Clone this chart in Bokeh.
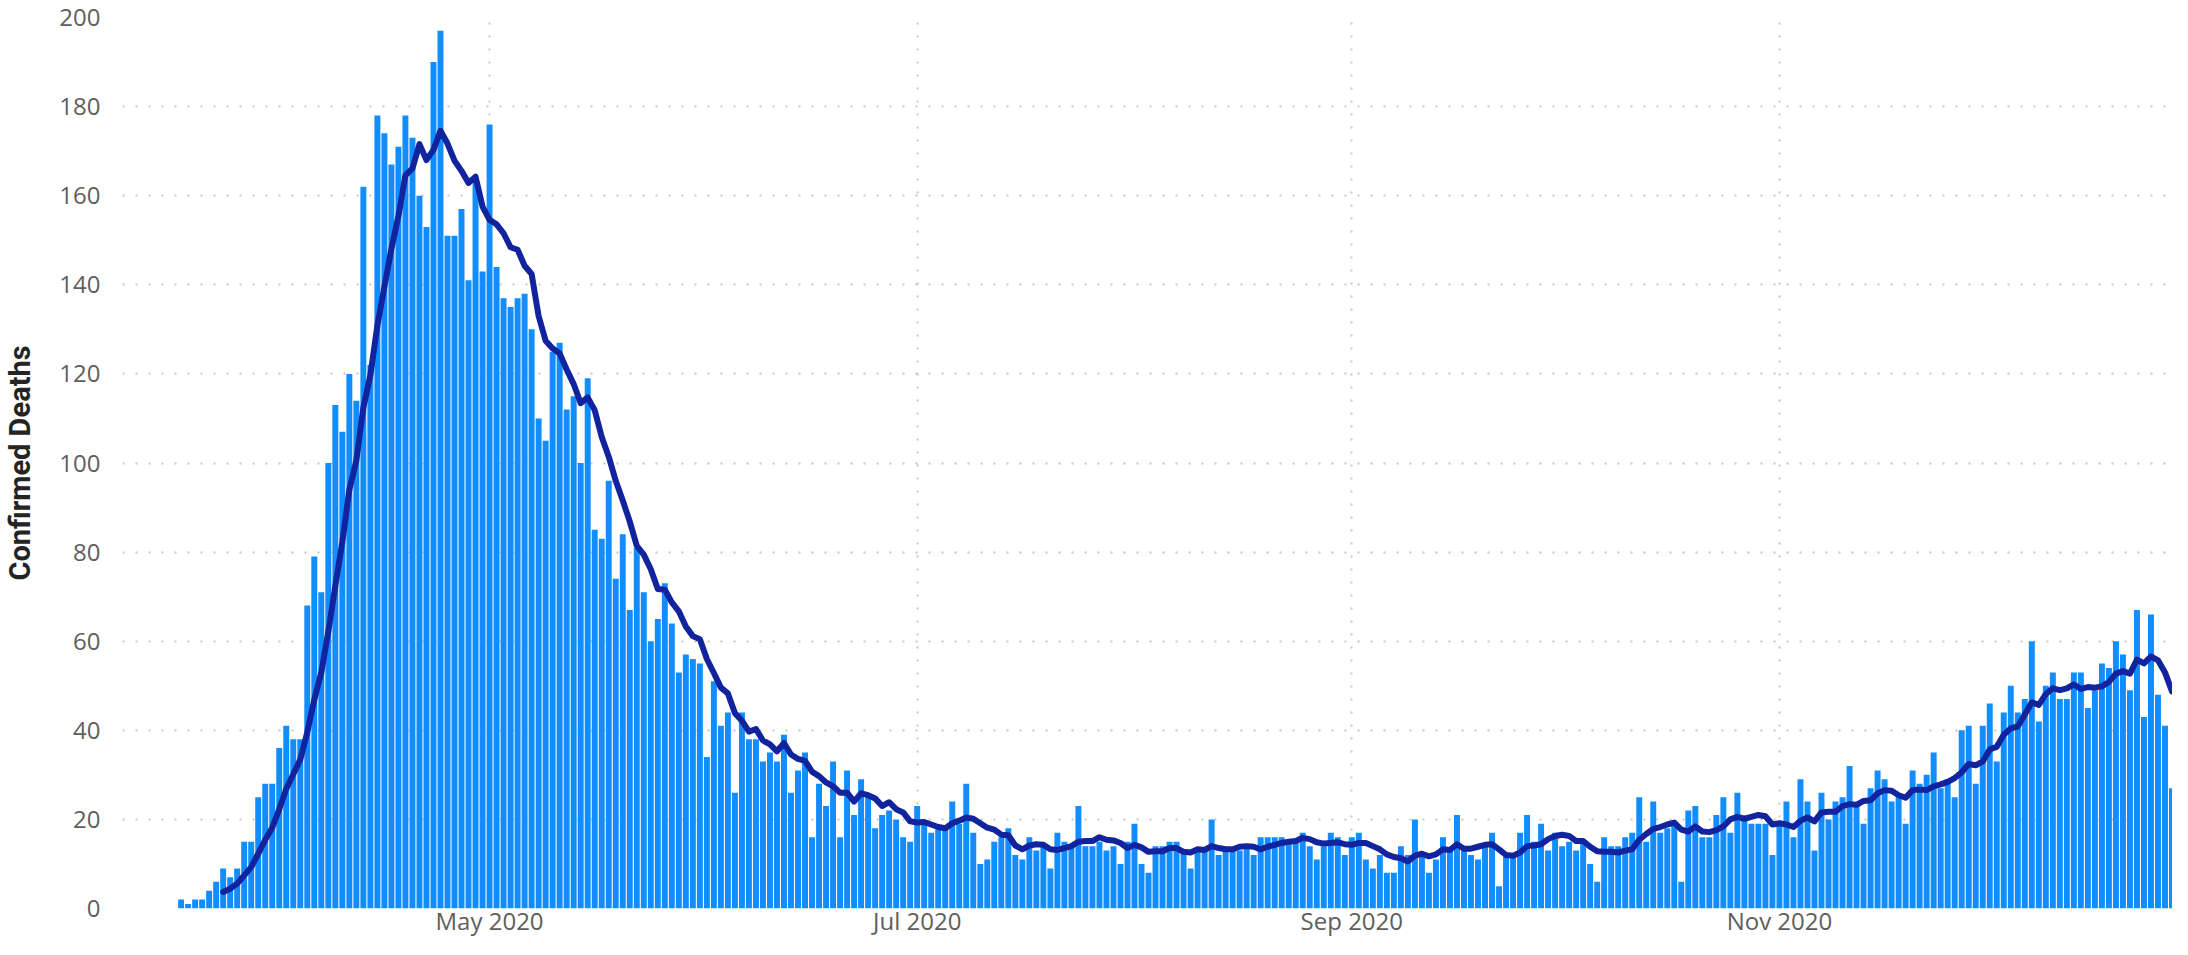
import pandas as pd
from bokeh.plotting import figure
from bokeh.models import ColumnDataSource, Range1d, FixedTicker, DatetimeTickFormatter
from bokeh.embed import file_html
from bokeh.resources import INLINE

# ---- data (daily confirmed deaths) ----
start_date = "2020-03-18"
deaths_mar_apr = [2, 1, 2, 2, 4, 6, 9, 7, 9, 15, 15, 25, 28, 28, 36, 41, 38, 38, 68, 79,
                  71, 100, 113, 107, 120, 114, 162, 122, 178, 174, 167, 171, 178, 173]
deaths_apr_may = [160, 153, 190, 197, 151, 151, 157, 141, 163, 143, 176, 144, 137, 135, 137, 138,
                  130, 110, 105, 125, 127, 112, 115, 100, 119, 85, 83, 96, 74, 84, 67, 81, 71, 60,
                  65, 73]
deaths_may_jun = [64, 53, 57, 56, 55, 34, 51, 41, 44, 26, 44, 38, 38, 33, 35, 33, 39, 26, 31, 35,
                  16, 28, 23, 33, 16, 31, 21, 29, 25, 18, 21, 22, 20, 16, 15]
deaths_jul_aug = [23, 19, 17, 18, 18, 24, 19, 28, 17, 10, 11, 15, 16, 18, 12, 11, 16, 13, 14, 9,
                  17, 15, 14, 23, 14, 14, 15, 13, 14, 10, 15, 19, 10, 8, 14, 14]
deaths_aug_sep = [15, 15, 13, 9, 13, 13, 20, 12, 13, 13, 13, 14, 12, 16, 16, 16, 16, 15, 15, 17,
                  14, 11, 14, 17, 16, 12, 16, 17, 11, 9, 12, 8, 8, 14, 12]
deaths_sep_oct = [20, 12, 8, 11, 16, 13, 21, 13, 12, 11, 14, 17, 5, 12, 12, 17, 21, 15, 19, 13,
                  17, 14, 15, 13, 15, 10, 6, 16, 14, 14, 16, 17, 25, 15, 24, 17]
deaths_oct_nov = [18, 19, 6, 22, 23, 16, 16, 21, 25, 17, 26, 20, 19, 19, 19, 12, 19, 24, 16, 29,
                  24, 13, 26, 20, 24, 25, 32, 23, 19, 27, 31, 29, 24, 25, 19]
deaths_nov_dec = [31, 28, 30, 35, 27, 29, 25, 40, 41, 28, 41, 46, 33, 44, 50, 44, 47, 60, 42, 50,
                  53, 47, 47, 53, 53, 45, 49, 55, 54, 60, 57, 49, 67, 43, 66, 48, 41, 27]

x_tick_dates = ["2020-05-01", "2020-07-01", "2020-09-01", "2020-11-01"]
y_ticks = [0, 20, 40, 60, 80, 100, 120, 140, 160, 180, 200]
y_label = "Confirmed Deaths"

deaths = (deaths_mar_apr + deaths_apr_may + deaths_may_jun + deaths_jul_aug +
          deaths_aug_sep + deaths_sep_oct + deaths_oct_nov + deaths_nov_dec)
dates = pd.date_range(start_date, periods=len(deaths), freq="D")
avg7 = pd.Series(deaths).rolling(7).mean()

src = ColumnDataSource(dict(date=dates, deaths=deaths, avg=avg7))

DAY_MS = 86400000.0
x_start = (pd.Timestamp(start_date) - pd.Timedelta(hours=8.36 * 24)).to_pydatetime()
x_end = (dates[-1] + pd.Timedelta(hours=0.07 * 24)).to_pydatetime()

p = figure(width=2172, height=939, x_axis_type="datetime",
           x_range=Range1d(x_start, x_end), y_range=Range1d(0, 200),
           output_backend="svg", toolbar_location=None,
           min_border_left=117, min_border_right=0, min_border_top=17, min_border_bottom=30)
p.outline_line_color = None
p.background_fill_color = "white"
p.border_fill_color = "white"

p.vbar(x="date", top="deaths", width=0.85 * DAY_MS, source=src,
       fill_color="#118DFF", line_color=None)
p.line(x="date", y="avg", source=src, line_color="#12239E", line_width=6,
       line_join="round", line_cap="round")

tick_ms = [pd.Timestamp(d).value / 1e6 for d in x_tick_dates]
p.xaxis.ticker = FixedTicker(ticks=tick_ms)
fmt = "%b %Y"
p.xaxis.formatter = DatetimeTickFormatter(days=fmt, months=fmt, years=fmt, hours=fmt,
                                          hourmin=fmt, minutes=fmt, minsec=fmt, seconds=fmt,
                                          milliseconds=fmt, microseconds=fmt)
p.yaxis.ticker = FixedTicker(ticks=y_ticks)

for ax in (p.xaxis[0], p.yaxis[0]):
    ax.axis_line_color = None
    ax.major_tick_line_color = None
    ax.minor_tick_line_color = None
    ax.major_tick_out = 0
    ax.major_tick_in = 0
    ax.minor_tick_out = 0
    ax.minor_tick_in = 0
    ax.major_label_text_font = "Open Sans"
    ax.major_label_text_font_size = "24px"
    ax.major_label_text_color = "#605E5C"
    ax.major_label_text_line_height = 1.0

p.xaxis.major_label_standoff = -5
p.yaxis.major_label_standoff = 22
p.yaxis.axis_label = y_label
p.yaxis.axis_label_text_font = "Roboto"
p.yaxis.axis_label_text_font_style = "bold"
p.yaxis.axis_label_text_font_size = "29px"
p.yaxis.axis_label_text_color = "#252423"
p.yaxis.axis_label_standoff = 19

for g in (p.xgrid[0], p.ygrid[0]):
    g.grid_line_color = "#C8C6C4"
    g.grid_line_dash = "2 11"
    g.grid_line_width = 2
p.xgrid.ticker = FixedTicker(ticks=tick_ms)
p.ygrid.ticker = FixedTicker(ticks=y_ticks)

open("out.html", "w").write(file_html(p, INLINE))
